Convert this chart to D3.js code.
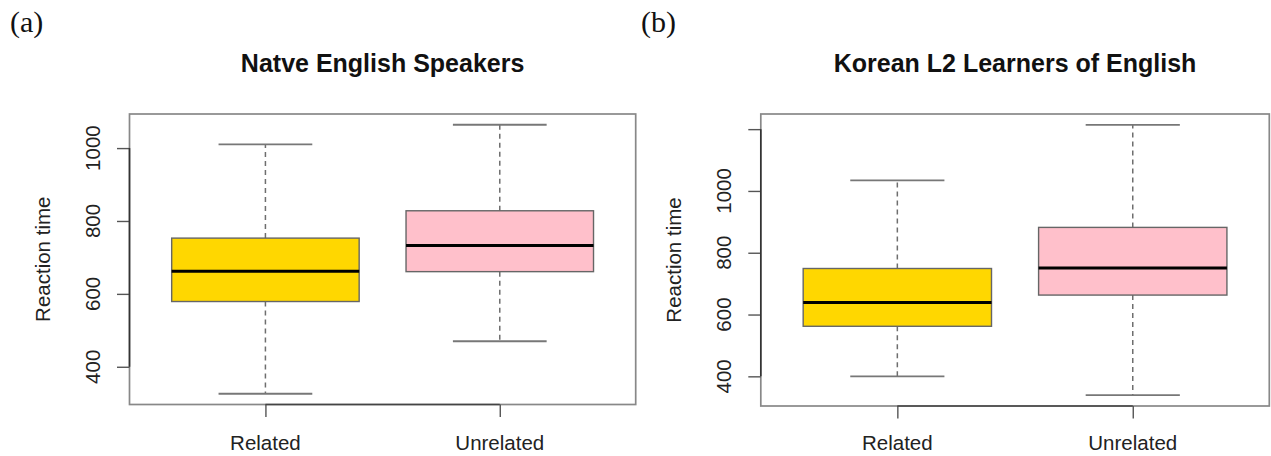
<!DOCTYPE html>
<html>
<head>
<meta charset="utf-8">
<script src="https://cdn.jsdelivr.net/npm/d3@7"></script>
<style>
  html, body { margin: 0; padding: 0; background: #fff; }
  svg { display: block; }
  text { font-family: "Liberation Sans", Arial, Helvetica, sans-serif; fill: #222; }
</style>
</head>
<body>
<svg id="chart" width="1271" height="456"></svg>
<script>
// Conditions shown on the x axis
const groups = ["Related", "Unrelated"];
const groupFill = ["#FFD700", "#FFC0CB"];

// Box statistics per condition: [lower whisker, Q1, median, Q3, upper whisker]
const nativeRelated = [326, 579, 662, 753, 1010];
const nativeUnrelated = [470, 661, 733, 828, 1064];
const koreanRelated = [400, 562, 639, 749, 1034];
const koreanUnrelated = [339, 663, 751, 882, 1214];

// Y axis ticks and labels
const nativeTicks = [400, 600, 800, 1000];
const nativeTickLabels = ["400", "600", "800", "1000"];
const koreanTicks = [400, 600, 800, 1000, 1200];
const koreanTickLabels = ["400", "600", "800", "1000", ""];

const panelTitles = ["Natve English Speakers", "Korean L2 Learners of English"];
const panelTags = ["(a)", "(b)"];
const yLabel = "Reaction time";

const svg = d3.select("#chart");

function drawPanel(opt) {
  const { stats, ticks, tickLabels, title, tag, left, right, top, bottom, tagX } = opt;
  const g = svg.append("g");

  // x: boxes at positions 1..n, range (0.5, n+0.5) padded by 4%
  const n = groups.length;
  const xPad = 0.04 * n;
  const x = d3.scaleLinear().domain([0.5 - xPad, n + 0.5 + xPad]).range([left, right]);

  // y: data range padded by 4%
  const lo = d3.min(stats, s => s[0]);
  const hi = d3.max(stats, s => s[4]);
  const yPad = 0.04 * (hi - lo);
  const y = d3.scaleLinear().domain([lo - yPad, hi + yPad]).range([bottom, top]);

  // whiskers (dashed) and staples
  stats.forEach((s, i) => {
    const cx = x(i + 1);
    g.append("line").attr("x1", cx).attr("x2", cx)
      .attr("y1", y(s[3])).attr("y2", y(s[4]))
      .attr("stroke", "#6e6e6e").attr("stroke-width", 1.5).attr("stroke-dasharray", "5,4");
    g.append("line").attr("x1", cx).attr("x2", cx)
      .attr("y1", y(s[1])).attr("y2", y(s[0]))
      .attr("stroke", "#6e6e6e").attr("stroke-width", 1.5).attr("stroke-dasharray", "5,4");
    [s[0], s[4]].forEach(v => {
      g.append("line")
        .attr("x1", x(i + 1 - 0.2)).attr("x2", x(i + 1 + 0.2))
        .attr("y1", y(v)).attr("y2", y(v))
        .attr("stroke", "#777").attr("stroke-width", 1.8);
    });
  });

  // boxes
  g.selectAll("rect.box").data(stats).join("rect")
    .attr("class", "box")
    .attr("x", (s, i) => x(i + 1 - 0.4))
    .attr("width", (s, i) => x(i + 1 + 0.4) - x(i + 1 - 0.4))
    .attr("y", s => y(s[3]))
    .attr("height", s => y(s[1]) - y(s[3]))
    .attr("fill", (s, i) => groupFill[i])
    .attr("stroke", "#666").attr("stroke-width", 1.4);

  // medians
  g.selectAll("line.median").data(stats).join("line")
    .attr("class", "median")
    .attr("x1", (s, i) => x(i + 1 - 0.4)).attr("x2", (s, i) => x(i + 1 + 0.4))
    .attr("y1", s => y(s[2])).attr("y2", s => y(s[2]))
    .attr("stroke", "#000").attr("stroke-width", 3);

  // plot frame
  g.append("rect")
    .attr("x", left).attr("y", top)
    .attr("width", right - left).attr("height", bottom - top)
    .attr("fill", "none").attr("stroke", "#888").attr("stroke-width", 1.7);

  // y axis: ticks, line spanning first..last tick, rotated labels
  const yAxis = g.append("g").attr("transform", `translate(${left},0)`)
    .call(d3.axisLeft(y).tickValues(ticks).tickSize(12.5).tickSizeOuter(0).tickFormat(""));
  yAxis.select(".domain").remove();
  yAxis.selectAll(".tick line").attr("stroke", "#555").attr("stroke-width", 1.4);
  g.append("line").attr("x1", left).attr("x2", left)
    .attr("y1", y(ticks[0])).attr("y2", y(ticks[ticks.length - 1]))
    .attr("stroke", "#333").attr("stroke-width", 1.6);
  ticks.forEach((t, i) => {
    g.append("text")
      .attr("transform", `translate(${left - 29.5},${y(t)}) rotate(-90)`)
      .attr("text-anchor", "middle")
      .attr("font-size", 20.5)
      .text(tickLabels[i]);
  });

  // y axis title
  g.append("text")
    .attr("transform", `translate(${left - 79.5},${(top + bottom) / 2}) rotate(-90)`)
    .attr("text-anchor", "middle")
    .attr("font-size", 20.5)
    .text(yLabel);

  // x axis: ticks at each group, line between first and last group
  const xAxis = g.append("g").attr("transform", `translate(0,${bottom})`)
    .call(d3.axisBottom(x).tickValues(d3.range(1, n + 1)).tickSize(12.5).tickSizeOuter(0).tickFormat(""));
  xAxis.select(".domain").remove();
  xAxis.selectAll(".tick line").attr("stroke", "#555").attr("stroke-width", 1.4);
  g.append("line").attr("x1", x(1)).attr("x2", x(n))
    .attr("y1", bottom).attr("y2", bottom)
    .attr("stroke", "#444").attr("stroke-width", 1.6);
  groups.forEach((name, i) => {
    g.append("text")
      .attr("x", x(i + 1)).attr("y", 450)
      .attr("text-anchor", "middle")
      .attr("font-size", 20.5)
      .text(name);
  });

  // panel title
  g.append("text")
    .attr("x", (left + right) / 2).attr("y", 72)
    .attr("text-anchor", "middle")
    .attr("font-size", 25).attr("font-weight", "bold")
    .style("fill", "#111")
    .text(title);

  // panel tag
  g.append("text")
    .attr("x", tagX).attr("y", 32)
    .attr("font-size", 30)
    .style("font-family", "'Liberation Serif', 'Times New Roman', serif")
    .style("fill", "#111")
    .text(tag);
}

drawPanel({
  stats: [nativeRelated, nativeUnrelated],
  ticks: nativeTicks, tickLabels: nativeTickLabels,
  title: panelTitles[0], tag: panelTags[0],
  left: 129.5, right: 635.7, top: 114, bottom: 404.5, tagX: 10
});
drawPanel({
  stats: [koreanRelated, koreanUnrelated],
  ticks: koreanTicks, tickLabels: koreanTickLabels,
  title: panelTitles[1], tag: panelTags[1],
  left: 760.8, right: 1269.3, top: 114, bottom: 406, tagX: 641
});
</script>
</body>
</html>
